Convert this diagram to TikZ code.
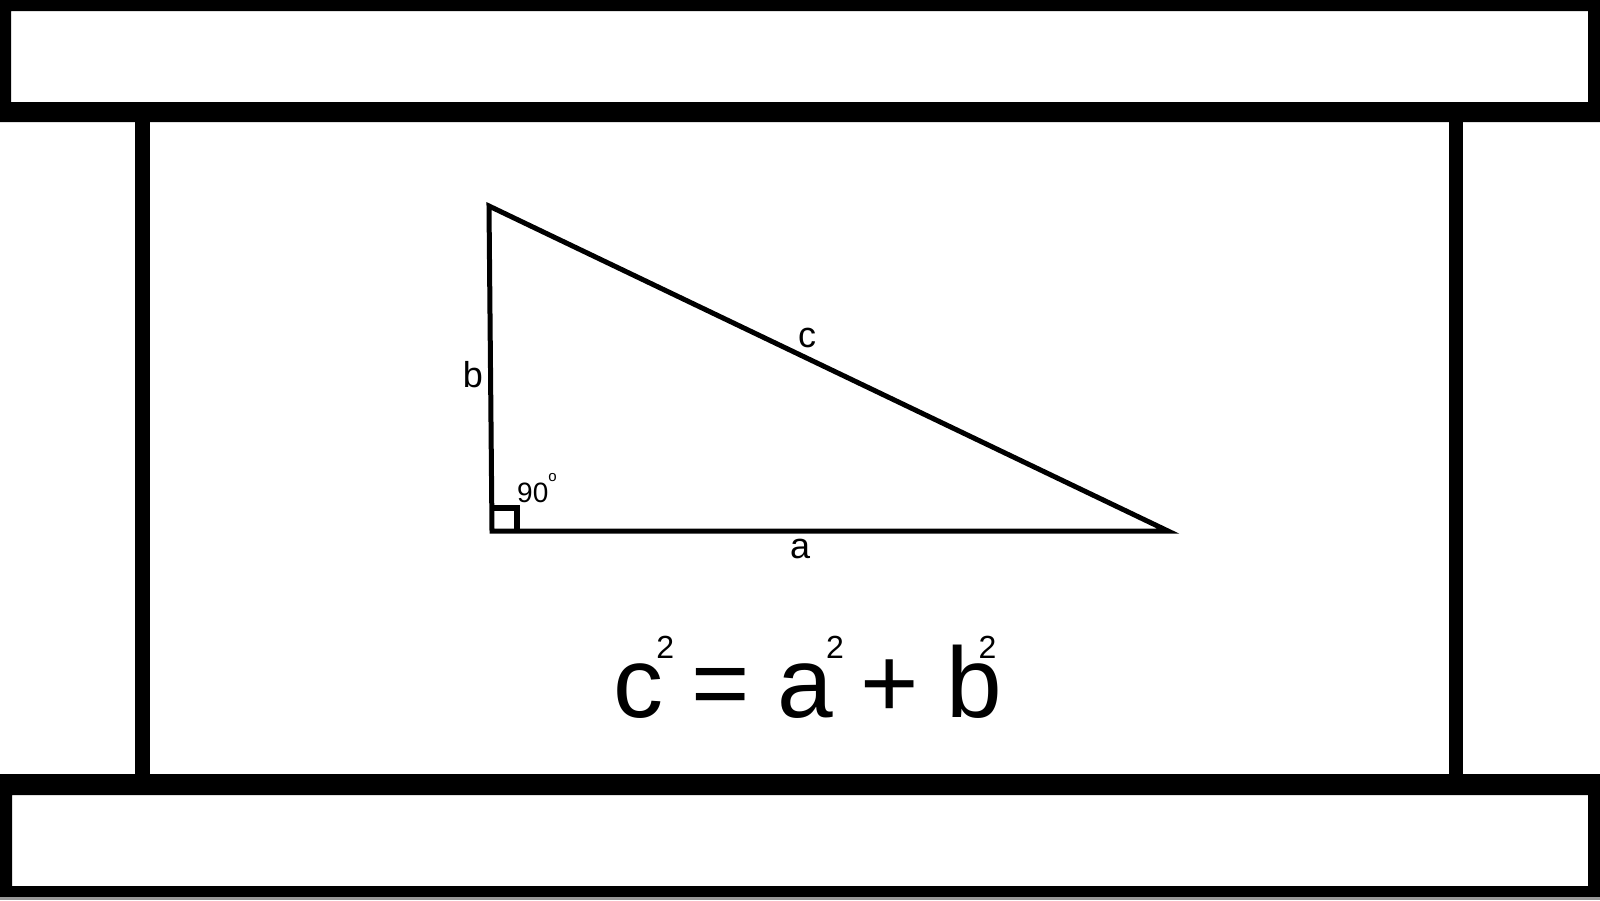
\documentclass[tikz,border=0pt]{standalone}
\usepackage{fontspec}
\setmainfont{Liberation Sans}
\usetikzlibrary{positioning}
\newcommand\sqr[1]{\rlap{\kern#1pt\raisebox{59pt}{\fontsize{32}{32}\selectfont 2}}}

\begin{document}
\begin{tikzpicture}[
      x=1pt,y=-1pt,
      bar/.style={fill=black,even odd rule},
      post/.style={fill=black},
      side/.style={draw=black,line width=5pt,line join=miter},
      lbl/.style={font=\fontsize{36}{36}\selectfont,anchor=base,inner sep=0pt}
    ]
    \useasboundingbox (0,0) rectangle (1600,900);
    \fill[white] (0,0) rectangle (1600,900);

    % frame: two bars and two posts
    \fill[bar] (0,0) rectangle (1600,122) (11,11) rectangle (1588,102);
    \fill[bar] (0,774) rectangle (1600,897) (12,795) rectangle (1588,886);
    \fill[post] (135,122) rectangle (150,774);
    \fill[post] (1449,122) rectangle (1463,774);
    \fill[black!40] (0,897) rectangle (1600,900);

    \coordinate (top)   at (489,206);
    \coordinate (right) at (1168,531);
    \coordinate (ra)    at (492,531);

    \draw[side] (ra) -- (top) -- (right) -- cycle;
    \draw[side,line width=6.5pt] (492,508) -- (517,508) -- (517,531);

    \node[lbl] (lb) at (473,387) {b};
    \node[lbl] (lc) at (807,347) {c};
    \node[lbl] (la) at (800,558) {a};
    \node[inner sep=0pt,anchor=base west,font=\fontsize{28}{28}\selectfont] (ang) at (517,502)
      {90\raisebox{21pt}{\fontsize{15}{15}\selectfont o}};

    \node[inner sep=0pt,anchor=base,font=\fontsize{100}{100}\selectfont] (eq) at (808,717)
      {c\sqr{-7} = a\sqr{-7} + b\sqr{-24}};
  \end{tikzpicture}
\end{document}
